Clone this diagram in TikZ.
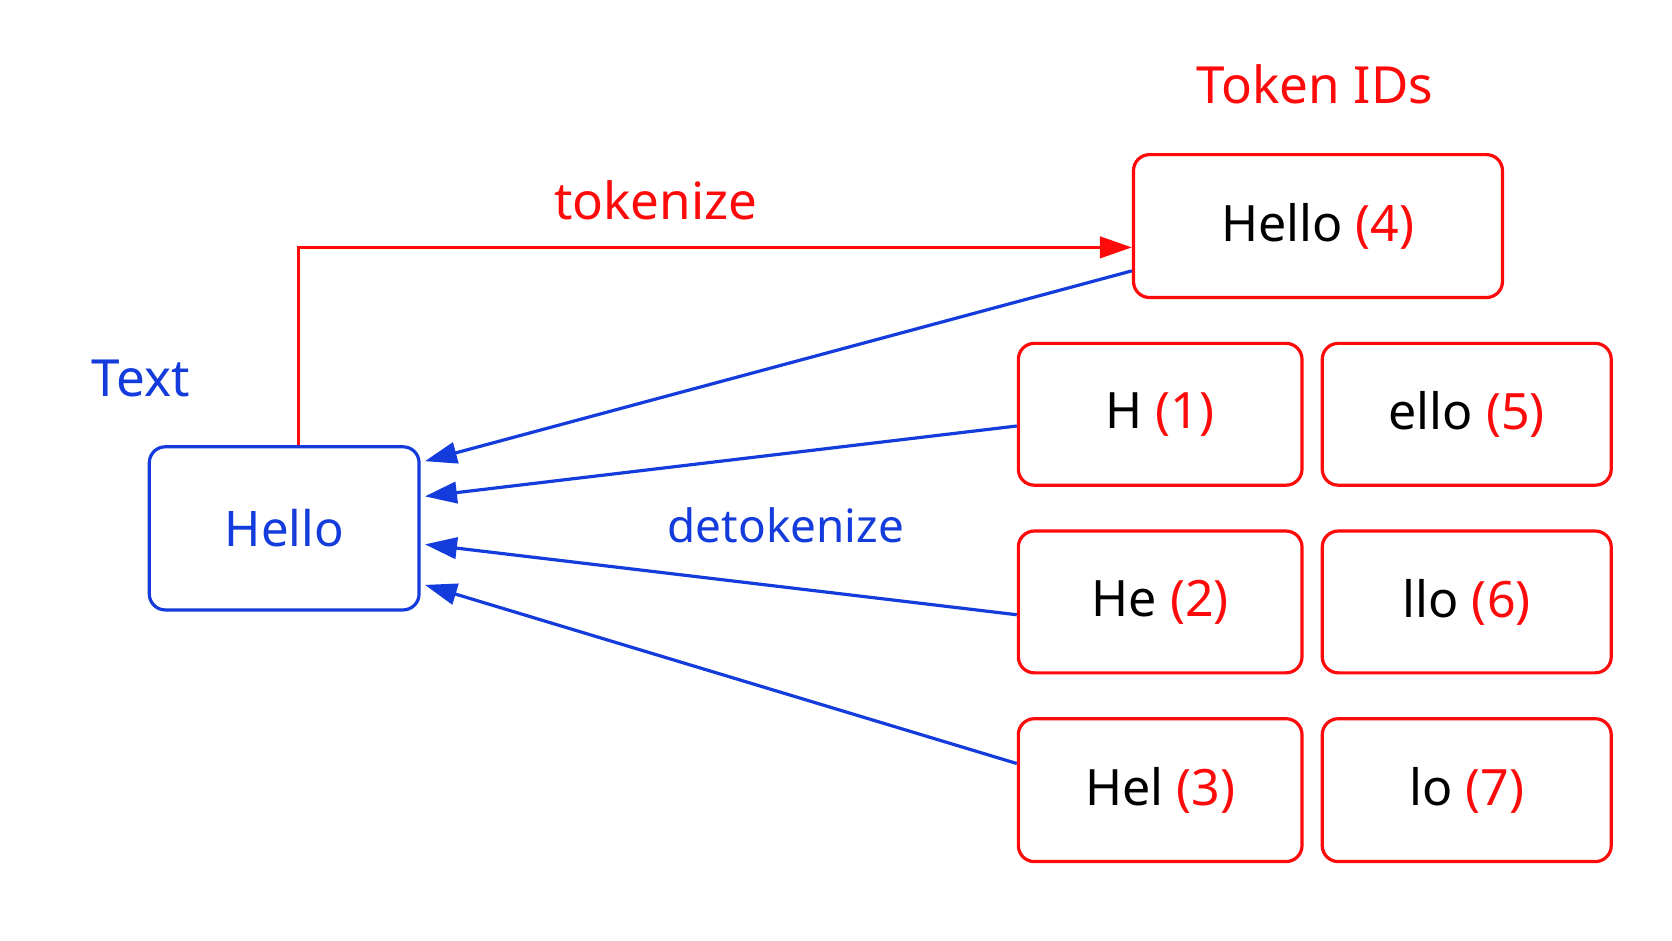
\documentclass[tikz,border=0pt]{standalone}
\usepackage{fontspec}
\setmainfont{Noto Sans}
\usetikzlibrary{arrows.meta}
\definecolor{tred}{RGB}{255,10,10}
\definecolor{tblue}{RGB}{20,60,220}
\begin{document}
\begin{tikzpicture}[x=1pt,y=-1pt,
  tokbox/.style={draw=tred,line width=3pt,rounded corners=15pt,inner sep=0pt,font=\fontsize{47}{56}\selectfont},
  txtbox/.style={draw=tblue,line width=3pt,rounded corners=15pt,inner sep=0pt,text=tblue,font=\fontsize{46}{56}\selectfont},
  lbl/.style={font=\fontsize{48}{58}\selectfont,inner sep=0pt},
  barrow/.style={draw=tblue,line width=3pt,-{Triangle[length=30pt,width=20pt]}},
  rarrow/.style={draw=tred,line width=3pt,-{Triangle[length=30pt,width=20pt]}}]
\useasboundingbox (0,0) rectangle (1568,882);
\fill[white] (0,0) rectangle (1568,882);
\node[txtbox,minimum width=253pt,minimum height=153pt] (hello) at (266.5,495.5) {Hello};
\node[lbl,text=tblue] (textlbl) at (132,355) {Text};
\node[lbl,text=tred] (tidlbl) at (1233,79) {Token IDs};
\node[tokbox,minimum width=346pt,minimum height=134pt] (h4) at (1236,212) {Hello \textcolor{tred}{(4)}};
\node[tokbox,minimum width=266pt,minimum height=133pt] (h1) at (1088,388.5) {H \textcolor{tred}{(1)}};
\node[tokbox,minimum width=271pt,minimum height=133pt] (h5) at (1375.5,388.5) {ello \textcolor{tred}{(5)}};
\node[tokbox,minimum width=266pt,minimum height=133pt] (h2) at (1088,564.5) {He \textcolor{tred}{(2)}};
\node[tokbox,minimum width=271pt,minimum height=133pt] (h6) at (1375.5,564.5) {llo \textcolor{tred}{(6)}};
\node[tokbox,minimum width=266pt,minimum height=134pt] (h3) at (1088,741) {Hel \textcolor{tred}{(3)}};
\node[tokbox,minimum width=271pt,minimum height=134pt] (h7) at (1375.5,741) {lo \textcolor{tred}{(7)}};
\node[lbl,text=tred] (tok) at (615,188) {tokenize};
\node[lbl,text=tblue,font=\fontsize{43}{52}\selectfont] (detok) at (737,493) {detokenize};
\draw[rarrow] ([xshift=13.5pt]hello.north) |- ([yshift=-20pt]h4.west);
\draw[barrow] ([yshift=-42pt]h4.west) -- ([yshift=63pt,xshift=4pt]hello.east);
\draw[barrow] ([yshift=-11pt]h1.west) -- ([yshift=30pt,xshift=4pt]hello.east);
\draw[barrow] ([yshift=-12pt]h2.west) -- ([yshift=-15pt,xshift=4pt]hello.east);
\draw[barrow] ([yshift=25pt]h3.west) -- ([yshift=-53pt,xshift=4pt]hello.east);
\end{tikzpicture}
\end{document}
